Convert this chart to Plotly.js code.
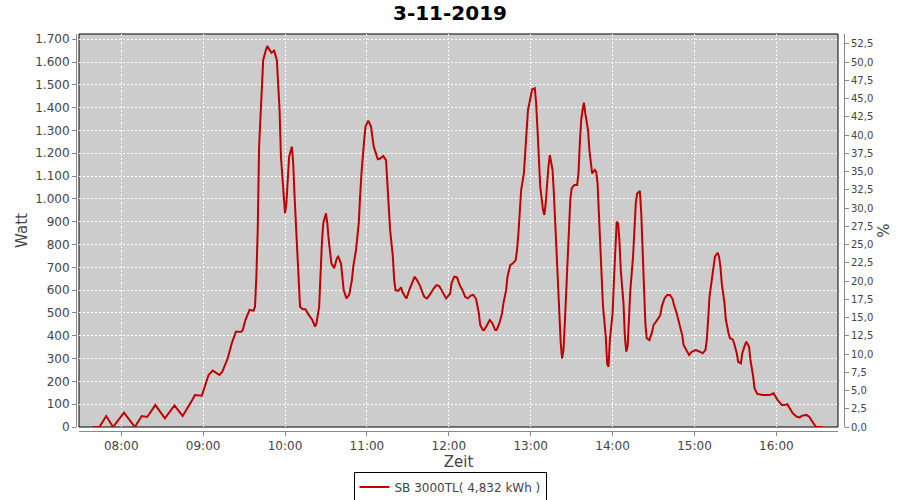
<!DOCTYPE html>
<html>
<head>
<meta charset="utf-8">
<script src="https://cdn.plot.ly/plotly-3.0.1.min.js"></script>
<style>html,body{margin:0;padding:0;background:#fff;}#chart{width:900px;height:500px;}</style>
</head>
<body>
<div id="chart"></div>
<script>
const chartTitle = '3-11-2019';
const seriesName = 'SB 3000TL( 4,832 kWh )';
const day = '2019-11-03';
const times = ['07:39','07:44','07:49','07:54','08:02','08:10','08:15','08:19','08:25','08:32','08:39','08:45','08:52','08:54','08:59',
'09:04','09:07','09:12','09:14','09:18','09:21','09:24','09:28','09:29','09:31','09:34','09:37','09:38','09:39','09:40','09:41','09:43','09:44','09:46','09:47','09:50','09:52','09:54','09:55','09:56','09:57','09:58','09:59',
'10:00','10:01','10:02','10:03','10:05','10:06','10:07','10:08','10:09','10:10','10:11','10:13','10:15','10:17','10:20','10:22','10:23','10:25','10:26','10:27','10:28','10:30','10:31','10:32','10:34','10:35','10:36','10:38','10:39','10:41','10:42','10:43','10:45','10:47','10:49','10:50','10:52','10:54','10:55','10:56','10:58','10:59',
'11:01','11:03','11:04','11:05','11:07','11:08','11:10','11:12','11:14','11:15','11:16','11:17','11:19','11:20','11:21','11:23','11:25','11:26','11:28','11:29','11:31','11:34','11:35','11:37','11:39','11:41','11:42','11:44','11:46','11:49','11:51','11:53','11:56','11:58',
'12:01','12:02','12:04','12:06','12:08','12:10','12:12','12:14','12:16','12:18','12:20','12:22','12:23','12:25','12:26','12:28','12:30','12:32','12:34','12:35','12:37','12:39','12:40','12:42','12:43','12:45','12:47','12:49','12:50','12:51','12:52','12:53','12:55','12:56','12:57','12:58',
'13:00','13:01','13:03','13:04','13:05','13:06','13:07','13:09','13:10','13:11','13:12','13:13','13:14','13:16','13:17','13:18','13:19','13:20','13:21','13:22','13:23','13:24','13:25','13:26','13:27','13:28','13:29','13:30','13:32','13:34','13:35','13:36','13:37','13:38','13:39','13:40','13:42','13:43','13:44','13:45','13:47','13:48','13:49','13:50','13:51','13:52','13:53','13:55','13:56','13:57','13:58',
'14:00','14:01','14:02','14:03','14:04','14:05','14:06','14:08','14:09','14:10','14:11','14:12','14:13','14:15','14:16','14:17','14:18','14:20','14:21','14:22','14:23','14:24','14:25','14:27','14:29','14:30','14:33','14:35','14:36','14:38','14:40','14:42','14:44','14:45','14:47','14:49','14:51','14:52','14:55','14:56','14:58',
'15:01','15:04','15:06','15:08','15:09','15:10','15:11','15:13','15:14','15:15','15:17','15:18','15:19','15:20','15:22','15:23','15:25','15:26','15:28','15:29','15:31','15:32','15:34','15:35','15:37','15:38','15:40','15:41','15:43','15:44','15:46','15:50','15:55','15:58','15:59',
'16:01','16:04','16:06','16:08','16:10','16:12','16:15','16:17','16:19','16:22','16:24','16:26','16:28','16:29','16:34'];
const watts = [0,0,48,0,63,0,48,44,96,38,95,48,118,140,137,
228,247,228,242,301,367,418,418,425,469,513,510,527,659,864,1229,1477,1609,1653,1670,1641,1650,1609,1514,1390,1185,1097,981,
937,981,1083,1185,1229,1156,1010,893,747,630,527,516,516,495,469,440,454,527,688,805,893,937,893,820,717,703,696,740,747,717,644,600,564,579,644,703,776,893,1010,1112,1258,1317,
1343,1317,1273,1229,1192,1174,1178,1188,1170,1083,981,864,747,644,600,597,612,593,571,564,600,644,659,641,618,585,571,564,579,608,622,618,585,564,
585,630,659,656,622,600,571,564,576,579,561,498,447,425,425,447,469,454,425,425,454,498,542,600,659,710,718,732,776,849,944,1039,1112,1214,1302,1390,
1448,1480,1485,1419,1302,1156,1054,952,930,981,1068,1141,1192,1127,1024,893,747,615,454,367,301,337,454,585,718,893,995,1046,1061,1061,1112,1244,1346,1390,1422,1375,1302,1214,1156,1112,1127,1119,1068,952,835,659,527,396,279,264,381,
498,644,805,900,893,820,688,542,396,330,352,454,600,747,878,981,1024,1035,937,776,571,454,389,381,418,447,472,491,527,564,579,579,561,535,498,454,403,360,323,316,330,
337,330,323,337,381,469,571,659,703,747,764,747,703,630,542,469,410,389,384,367,323,286,279,323,360,374,352,294,221,169,145,140,140,148,137,
118,96,96,100,82,60,45,42,50,53,45,27,12,0,0];
const hourTicks = ['08:00','09:00','10:00','11:00','12:00','13:00','14:00','15:00','16:00'];

const xs = times.map(t => day + ' ' + t);
const tickFont = {family: 'DejaVu Sans, sans-serif', size: 12, color: '#444444'};
const titleFont = {family: 'DejaVu Sans, sans-serif', size: 15, color: '#444444'};

const trace = {
  x: xs, y: watts, type: 'scatter', mode: 'lines', name: seriesName,
  line: {color: '#C00000', width: 2}, xaxis: 'x', yaxis: 'y'
};
// empty helper trace so that the percentage axis on the right is drawn
const pctAxisTrace = {
  x: [null], y: [null], type: 'scatter', mode: 'lines', xaxis: 'x', yaxis: 'y2',
  showlegend: false, hoverinfo: 'skip', line: {color: 'rgba(0,0,0,0)'}
};

const layout = {
  width: 900, height: 500,
  margin: {l: 76, r: 56, t: 34, b: 69, pad: 0},
  paper_bgcolor: '#ffffff', plot_bgcolor: '#CCCCCC',
  separators: ',.',
  font: {family: 'DejaVu Sans, sans-serif', color: '#444444'},
  title: {text: '<b>' + chartTitle + '</b>', font: {family: 'DejaVu Sans, sans-serif', size: 20, color: '#000000'},
          x: 0.5, xref: 'container', xanchor: 'center', y: 0.974, yref: 'container', yanchor: 'middle'},
  showlegend: true,
  legend: {orientation: 'h', x: 0.5, xref: 'container', xanchor: 'center', y: 0.026, yref: 'container', yanchor: 'middle',
           bordercolor: '#000000', borderwidth: 1, bgcolor: '#ffffff', font: {family: 'DejaVu Sans, sans-serif', size: 12, color: '#444444'},
           itemwidth: 30},
  xaxis: {
    type: 'date', domain: [3/768, 762/768], anchor: 'free', position: 0,
    range: [day + ' 07:29:03', day + ' 16:45:09'],
    tickvals: hourTicks.map(t => day + ' ' + t), ticktext: hourTicks,
    showline: true, linecolor: '#888888', linewidth: 1,
    ticks: 'outside', ticklen: 4, tickcolor: '#888888',
    showgrid: true, gridcolor: '#ffffff', gridwidth: 1, griddash: '2px,2px',
    zeroline: false, tickfont: tickFont,
    title: {text: 'Zeit', font: titleFont, standoff: 4}
  },
  yaxis: {
    domain: [4/397, 1], anchor: 'free', position: 0,
    range: [0, 1723], dtick: 100, tick0: 0, tickformat: ',d', separatethousands: true,
    showline: true, linecolor: '#888888', linewidth: 1,
    ticks: 'outside', ticklen: 4, tickcolor: '#888888',
    showgrid: true, gridcolor: '#ffffff', gridwidth: 1, griddash: '2px,2px',
    zeroline: false, tickfont: tickFont,
    title: {text: 'Watt', font: titleFont, standoff: 2}
  },
  yaxis2: {
    overlaying: 'y', side: 'right', anchor: 'free', position: 1,
    range: [0, 53.84], dtick: 2.5, tick0: 0, tickformat: '.1f',
    showline: true, linecolor: '#888888', linewidth: 1,
    ticks: 'outside', ticklen: 4, tickcolor: '#888888',
    showgrid: false, zeroline: false,
    tickfont: {family: 'DejaVu Sans, sans-serif', size: 10, color: '#444444'},
    title: {text: '%', font: titleFont, standoff: 6}
  },
  shapes: [{type: 'rect', xref: 'x domain', yref: 'y domain', x0: 0, x1: 1, y0: 0, y1: 1,
            line: {color: '#000000', width: 1}, fillcolor: 'rgba(0,0,0,0)', layer: 'below'}]
};

Plotly.newPlot('chart', [trace, pctAxisTrace], layout, {displayModeBar: false, staticPlot: true});
</script>
</body>
</html>
